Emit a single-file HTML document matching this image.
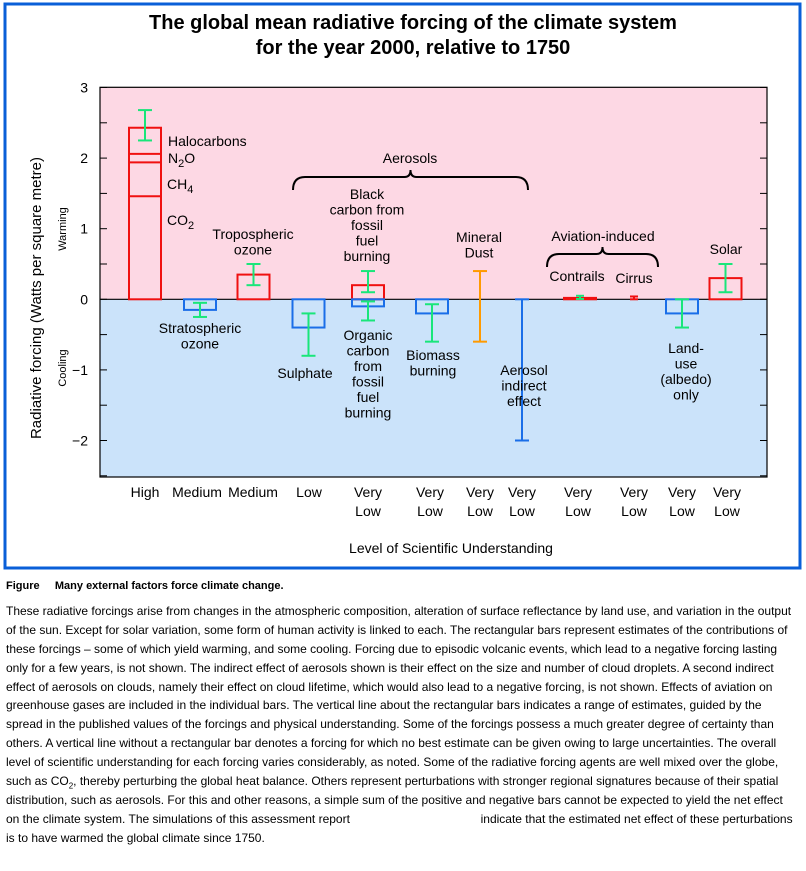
<!DOCTYPE html>
<html><head><meta charset="utf-8"><style>
body{margin:0;background:#fff;width:806px;height:871px;overflow:hidden;font-family:"Liberation Sans",Arial,sans-serif}
#cap{position:absolute;left:6px;top:576px;font-size:12px;color:#000}
#cap .l{white-space:nowrap;height:18.9px;line-height:18.9px}
</style></head><body>
<svg id="chart" width="806" height="575" style="position:absolute;left:0;top:0" font-family="Liberation Sans, Arial, sans-serif">
<rect x="5" y="4" width="795" height="564" fill="none" stroke="#0a5fd8" stroke-width="3"/>
<text x="413" y="29" text-anchor="middle" font-size="20" font-weight="bold">The global mean radiative forcing of the climate system</text>
<text x="413" y="54" text-anchor="middle" font-size="20" font-weight="bold">for the year 2000, relative to 1750</text>
<g id="plot"></g>
</svg>
<div id="cap">
<div class="l" style="font-weight:bold;font-size:11px;height:20px;line-height:20px">Figure &nbsp;&nbsp;&nbsp;&nbsp;Many external factors force climate change.</div>
<div class="l" style="margin-top:6px">These radiative forcings arise from changes in the atmospheric composition, alteration of surface reflectance by land use, and variation in the output</div>
<div class="l">of the sun. Except for solar variation, some form of human activity is linked to each. The rectangular bars represent estimates of the contributions of</div>
<div class="l">these forcings – some of which yield warming, and some cooling. Forcing due to episodic volcanic events, which lead to a negative forcing lasting</div>
<div class="l">only for a few years, is not shown. The indirect effect of aerosols shown is their effect on the size and number of cloud droplets. A second indirect</div>
<div class="l">effect of aerosols on clouds, namely their effect on cloud lifetime, which would also lead to a negative forcing, is not shown. Effects of aviation on</div>
<div class="l">greenhouse gases are included in the individual bars. The vertical line about the rectangular bars indicates a range of estimates, guided by the</div>
<div class="l">spread in the published values of the forcings and physical understanding. Some of the forcings possess a much greater degree of certainty than</div>
<div class="l">others. A vertical line without a rectangular bar denotes a forcing for which no best estimate can be given owing to large uncertainties. The overall</div>
<div class="l">level of scientific understanding for each forcing varies considerably, as noted. Some of the radiative forcing agents are well mixed over the globe,</div>
<div class="l">such as CO<sub style="font-size:8px">2</sub>, thereby perturbing the global heat balance. Others represent perturbations with stronger regional signatures because of their spatial</div>
<div class="l">distribution, such as aerosols. For this and other reasons, a simple sum of the positive and negative bars cannot be expected to yield the net effect</div>
<div class="l">on the climate system. The simulations of this assessment report <span style="display:inline-block;width:124px"></span> indicate that the estimated net effect of these perturbations</div>
<div class="l">is to have warmed the global climate since 1750.</div>
</div>
<script>
// Data
const categories=["Halocarbons","Stratospheric ozone","Tropospheric ozone","Sulphate","Black carbon","Organic carbon","Biomass burning","Mineral Dust","Aerosol indirect effect","Contrails","Cirrus","Land-use","Solar"];
const positions=[145,200,253.5,308.5,368,368,432,480,522,580,634,682,725.5];
const barValues=[2.43,-0.15,0.35,-0.4,0.2,-0.1,-0.2,null,null,0.02,null,-0.2,0.3];
const errLow=[2.25,-0.25,0.2,-0.8,0.1,-0.3,-0.6,-0.6,-2.0,0.005,0.0,-0.4,0.1];
const errHigh=[2.68,-0.05,0.5,-0.2,0.4,-0.03,-0.07,0.4,0.0,0.05,0.04,0.0,0.5];
const ghgSplits=[1.46,1.94,2.06];
const yTicks=[3,2,1,0,-1,-2];
const levelLabels=[["High"],["Medium"],["Medium"],["Low"],["Very","Low"],["Very","Low"],["Very","Low"],["Very","Low"],["Very","Low"],["Very","Low"],["Very","Low"]];
const levelX=[145,197,253,309,368,430,480,522,578,634,682,727];

const NS="http://www.w3.org/2000/svg";
const g=document.getElementById('plot');
const L=100,R=767,T=87.3,B=477;
const y=v=>299.3-70.6*v;
function mk(tag,attrs,parent){const e=document.createElementNS(NS,tag);for(const k in attrs)e.setAttribute(k,attrs[k]);(parent||g).appendChild(e);return e;}
function txt(x,yy,s,size,anchor,name){const e=mk('text',{x:x,y:yy,'font-size':size,'text-anchor':anchor||'middle'});e.textContent=s;return e;}

const pink=mk('rect',{x:L,y:T,width:R-L,height:y(0)-T,fill:'#fdd8e4'});


const blue=mk('rect',{x:L,y:y(0),width:R-L,height:B-y(0),fill:'#cbe3fa'});



yTicks.forEach(t=>{txt(88,y(t)+5,t<0?'\u2212'+(-t):String(t),14,'end','y-tick-label');});
for(let v=3;v>=-2.5;v-=0.5){
 const tk=mk('line',{x1:L,x2:L+7,y1:y(v),y2:y(v),stroke:'#000','stroke-width':1});
 
 
 const tk2=mk('line',{x1:R-7,x2:R,y1:y(v),y2:y(v),stroke:'#000','stroke-width':1});
 
 
}
const zl=mk('line',{x1:L,x2:R,y1:y(0),y2:y(0),stroke:'#000','stroke-width':1.2});



const W=32;
barValues.forEach((v,i)=>{
 if(v===null)return;
 const c=v>=0?'#f01010':'#1a6ee8';
 const top=v>=0?y(v):y(0), h=Math.abs(y(v)-y(0));
 const b=mk('rect',{x:positions[i]-W/2,y:top,width:W,height:h,fill:'none',stroke:c,'stroke-width':2});
 
 
});
ghgSplits.forEach(s=>{const l=mk('line',{x1:positions[0]-W/2,x2:positions[0]+W/2,y1:y(s),y2:y(s),stroke:'#f01010','stroke-width':2});
 
 });
const errColors=['#19e67a','#19e67a','#19e67a','#19e67a','#19e67a','#19e67a','#19e67a','#ff9a00','#1a6ee8','#19e67a','#f01010','#19e67a','#19e67a'];
errLow.forEach((lo,i)=>{
 const x=positions[i],c=errColors[i],hw=i===9||i===10?4:7;
 const eg=mk('g',{stroke:c,'stroke-width':2});
 
 
 mk('line',{x1:x,x2:x,y1:y(lo),y2:y(errHigh[i])},eg);
 mk('line',{x1:x-hw,x2:x+hw,y1:y(lo),y2:y(lo)},eg);
 mk('line',{x1:x-hw,x2:x+hw,y1:y(errHigh[i]),y2:y(errHigh[i])},eg);
});
const frame=mk('rect',{x:L,y:T,width:R-L,height:B-T,fill:'none',stroke:'#000','stroke-width':1.2});



function brace(x1,x2,yt,name){const m=(x1+x2)/2;const p=mk('path',{d:`M${x1},${yt+13} Q${x1},${yt} ${x1+12},${yt} L${m-6},${yt} Q${m},${yt} ${m},${yt-7} Q${m},${yt} ${m+6},${yt} L${x2-12},${yt} Q${x2},${yt} ${x2},${yt+13}`,fill:'none',stroke:'#000','stroke-width':2});
 }
brace(293,528,177,'aerosols-brace');
brace(547,658,254,'aviation-brace');

const labs=[
 [168,146,['Halocarbons'],'start'],[253,239,['Tropospheric','ozone'],'middle'],
 [200,333,['Stratospheric','ozone'],'middle'],[305,378,['Sulphate'],'middle'],
 [367,199,['Black','carbon from','fossil','fuel','burning'],'middle'],
 [368,340,['Organic','carbon','from','fossil','fuel','burning'],'middle'],
 [433,360,['Biomass','burning'],'middle'],[479,242,['Mineral','Dust'],'middle'],
 [524,375,['Aerosol','indirect','effect'],'middle'],[410,163,['Aerosols'],'middle'],
 [603,241,['Aviation-induced'],'middle'],[577,281,['Contrails'],'middle'],[634,283,['Cirrus'],'middle'],
 [686,353,['Land-','use','(albedo)','only'],'middle'],[726,254,['Solar'],'middle']];
labs.forEach(([x,yy,lines,a])=>lines.forEach((s,k)=>txt(x,yy+k*15.5,s,14,a,'forcing-label')));
[['N','2','O',168,163],['CH','4','',167,189],['CO','2','',167,225]].forEach(([a,sub,b,x,yy])=>{
 const t=txt(x,yy,'',14,'start','gas-label');
 const s1=document.createElementNS(NS,'tspan');s1.textContent=a;t.appendChild(s1);
 const s2=document.createElementNS(NS,'tspan');s2.textContent=sub;s2.setAttribute('dy','4');s2.setAttribute('font-size','11');t.appendChild(s2);
 if(b){const s3=document.createElementNS(NS,'tspan');s3.textContent=b;s3.setAttribute('dy','-4');t.appendChild(s3);}
});
levelX.forEach((x,i)=>{const lv=levelLabels[Math.min(i,levelLabels.length-1)];lv.forEach((s,k)=>txt(x,497+k*19,s,14,'middle','level-label'));});
txt(451,553,'Level  of Scientific Understanding',14,'middle','x-axis-title');
const yt=txt(0,0,'Radiative forcing  (Watts per square metre)',15,'middle','y-axis-title');
yt.setAttribute('transform','translate(41,298) rotate(-90)');
const w1=txt(0,0,'Warming',11,'middle','warming-label');w1.setAttribute('transform','translate(66,229) rotate(-90)');
const c1=txt(0,0,'Cooling',11,'middle','cooling-label');c1.setAttribute('transform','translate(66,368) rotate(-90)');
</script>
</body></html>
